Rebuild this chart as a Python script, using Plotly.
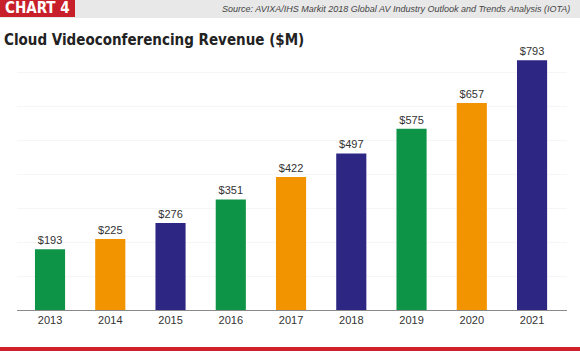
import plotly.graph_objects as go

years = ["2013", "2014", "2015", "2016", "2017", "2018", "2019", "2020", "2021"]
revenue = [193, 225, 276, 351, 422, 497, 575, 657, 793]
labels = ["$193", "$225", "$276", "$351", "$422", "$497", "$575", "$657", "$793"]
green, orange, navy = "#0d9446", "#f29300", "#2e2683"
colors = [green, orange, navy, green, orange, navy, green, orange, navy]

COND = "DejaVu Sans Condensed, Liberation Sans Narrow, Arial Narrow, sans-serif"

fig = go.Figure(go.Bar(
    x=years, y=revenue, text=labels, textposition="outside",
    marker=dict(color=colors, line=dict(width=0)),
    width=0.5, cliponaxis=False,
    textfont=dict(size=11, color="#333333", family="Liberation Sans, Arial, sans-serif"),
))

fig.update_layout(
    width=580, height=351,
    margin=dict(l=17, r=13, t=55, b=41),
    paper_bgcolor="white", plot_bgcolor="white",
    showlegend=False,
    xaxis=dict(
        type="category", range=[-0.548, 8.58],
        showline=True, linecolor="#8a8a8a", linewidth=1,
        ticks="", showgrid=False,
        tickfont=dict(size=11, color="#333333", family="Liberation Sans, Arial, sans-serif"),
    ),
    yaxis=dict(
        range=[0, 809.5], dtick=107.5, showticklabels=False,
        showgrid=True, gridcolor="#f6f6f6", gridwidth=1, zeroline=False,
    ),
    shapes=[
        dict(type="rect", xref="paper", yref="paper", x0=-0.05, x1=1.05,
             y0=(351 - 18 - 41) / 255, y1=2, fillcolor="#e8e8e8", line=dict(width=0), layer="below"),
        dict(type="rect", xref="paper", yref="paper", x0=-17 / 550, x1=58 / 550,
             y0=(351 - 17 - 41) / 255, y1=2, fillcolor="#c8202a", line=dict(width=0)),
        dict(type="rect", xref="paper", yref="paper", x0=-0.05, x1=1.05,
             y0=-41 / 255, y1=-37 / 255, fillcolor="#d0212a", line=dict(width=0)),
    ],
    annotations=[
        dict(text="<b>CHART 4</b>", xref="paper", yref="paper",
             x=-14 / 550, y=(351 - 8.5 - 41) / 255, xanchor="left", yanchor="middle",
             showarrow=False, font=dict(size=15, color="white", family=COND)),
        dict(text="<i>Source: AVIXA/IHS Markit 2018 Global AV Industry Outlook and Trends Analysis (IOTA)</i>",
             xref="paper", yref="paper", x=555 / 550, y=(351 - 9 - 41) / 255,
             xanchor="right", yanchor="middle", showarrow=False,
             font=dict(size=9, color="#444444", family="Liberation Sans, Arial, sans-serif")),
        dict(text="<b>Cloud Videoconferencing Revenue ($M)</b>", xref="paper", yref="paper",
             x=-15 / 550, y=(351 - 40 - 41) / 255, xanchor="left", yanchor="middle",
             showarrow=False, font=dict(size=15, color="#222222", family=COND)),
    ],
)

fig.write_html("out.html")
